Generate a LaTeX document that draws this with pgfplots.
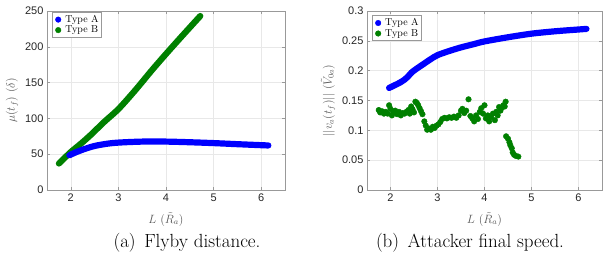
\documentclass[border=0pt]{standalone}
\usepackage{fontspec}
\usepackage{pgfplots}
\pgfplotsset{compat=1.18}
\newfontfamily\tickfont{Liberation Sans}
\definecolor{tA}{RGB}{0,0,255}
\definecolor{tB}{RGB}{0,128,0}
\pgfplotstableread{
x y
1.97 48.5
2.10 52.5
2.30 57.5
2.50 61.5
2.75 64.5
3.00 66.2
3.50 67.6
4.00 67.6
4.50 66.7
5.00 65.5
5.50 64.0
6.00 62.6
6.15 62.2
}\leftA
\pgfplotstableread{
x y
1.75 37
2.00 53
2.20 64
2.42 77
2.70 95
3.00 113
3.35 139
3.70 167
4.00 190
4.35 216
4.72 243
}\leftB
\pgfplotstableread{
x y
1.97 0.171
2.10 0.176
2.20 0.180
2.30 0.185
2.37 0.190
2.45 0.197
2.55 0.203
2.70 0.211
2.85 0.219
3.00 0.226
3.25 0.233
3.50 0.239
3.75 0.244
4.00 0.249
4.50 0.256
5.00 0.262
5.50 0.266
6.00 0.269
6.17 0.270
}\rightA
\pgfplotstableread{
x y
1.75 0.134
1.78 0.130
1.82 0.132
1.86 0.128
1.90 0.131
1.94 0.128
1.97 0.142
2.00 0.136
2.03 0.125
2.06 0.130
2.10 0.133
2.14 0.127
2.18 0.131
2.22 0.125
2.26 0.129
2.30 0.128
2.34 0.131
2.38 0.134
2.41 0.128
2.44 0.140
2.47 0.135
2.50 0.130
2.53 0.148
2.56 0.146
2.59 0.142
2.62 0.137
2.65 0.132
2.68 0.127
2.72 0.115
2.75 0.108
2.78 0.101
2.82 0.103
2.86 0.101
2.90 0.106
2.94 0.104
2.98 0.108
3.02 0.110
3.06 0.114
3.10 0.119
3.15 0.121
3.20 0.120
3.25 0.122
3.30 0.121
3.35 0.123
3.40 0.121
3.45 0.125
3.50 0.133
3.53 0.136
3.57 0.129
3.61 0.133
3.66 0.152
3.70 0.124
3.74 0.120
3.78 0.115
3.82 0.125
3.86 0.119
3.90 0.131
3.93 0.137
3.97 0.128
4.00 0.142
4.03 0.120
4.07 0.125
4.10 0.115
4.14 0.122
4.18 0.128
4.22 0.117
4.25 0.131
4.28 0.125
4.31 0.139
4.34 0.133
4.37 0.138
4.40 0.142
4.43 0.140
4.45 0.148
4.46 0.090
4.50 0.086
4.53 0.080
4.55 0.075
4.58 0.070
4.60 0.063
4.63 0.059
4.67 0.057
4.72 0.056
}\rightB
\begin{document}
\begin{tikzpicture}
\useasboundingbox (-47pt,-70pt) rectangle (561pt,190pt);
\pgfplotsset{every axis/.append style={
  scale only axis, height=179pt, xmin=1.5, xmax=6.5, xtick={2,3,4,5,6},
  grid=major, grid style={color=black!9, line width=0.5pt},
  axis line style={black!40, line width=0.6pt},
  tick style={black!40, line width=0.5pt}, major tick length=3pt, tick align=inside,
  tick label style={font=\tickfont\fontsize{11}{13}\selectfont, text=black!85},
  /pgf/number format/assume math mode=true,
  label style={font=\fontsize{12}{14}\selectfont, text=black!65},
  xlabel={$L\ (\tilde{R}_a)$},
  xlabel style={yshift=-4pt},
  legend style={font=\fontsize{10}{12}\selectfont, draw=black!40,
    inner xsep=1pt, inner ysep=1pt, row sep=-2pt},
  legend cell align=left,
  legend image code/.code={\path (-0.12cm,0) (0.22cm,0); \fill (0.05cm,0) circle (2.8pt);},
}}
\begin{axis}[width=238pt, ymin=0, ymax=250, ytick={0,50,...,250},
  ylabel={$\mu(t_f)\ (\delta)$},
  legend style={at={(0.021,0.994)}, anchor=north west}]
\addlegendimage{tA}
\addlegendentry{Type A}
\addlegendimage{tB}
\addlegendentry{Type B}
\addplot[tB, line width=6.2pt, line cap=round, smooth, forget plot] table {\leftB};
\addplot[tA, line width=6.2pt, line cap=round, smooth, forget plot] table {\leftA};
\end{axis}
\begin{axis}[at={(320pt,0)}, anchor=south west, width=235pt, ymin=0, ymax=0.3,
  ytick={0,0.05,...,0.3}, scaled y ticks=false,
  yticklabel style={/pgf/number format/fixed, /pgf/number format/precision=2},
  ylabel={$||v_a(t_f)||\ (\tilde{V}_{0a})$},
  legend style={at={(0.021,0.975)}, anchor=north west}]
\addlegendimage{tA}
\addlegendentry{Type A}
\addlegendimage{tB}
\addlegendentry{Type B}
\addplot[tA, line width=6.2pt, line cap=round, smooth, forget plot] table {\rightA};
\addplot[tB, only marks, mark=*, mark size=2.8pt, forget plot] table {\rightB};
\end{axis}
\node[font=\fontsize{19}{22}\selectfont, inner sep=0pt] at (140pt,-53pt) {(a)\hspace{0.45em}Flyby distance.};
\node[font=\fontsize{19}{22}\selectfont, inner sep=0pt] at (423pt,-53pt) {(b)\hspace{0.45em}Attacker final speed.};
\end{tikzpicture}
\end{document}
